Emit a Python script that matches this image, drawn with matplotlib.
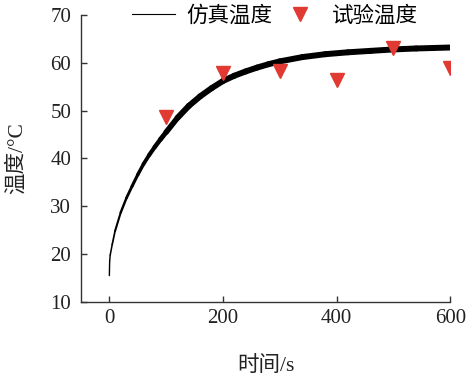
import matplotlib
matplotlib.use("Agg")
import matplotlib.pyplot as plt
from matplotlib.lines import Line2D
from matplotlib.collections import LineCollection

plt.rcParams['font.family'] = ['Liberation Serif', 'Noto Sans CJK SC']
plt.rcParams['axes.unicode_minus'] = False

# simulated temperature (read off the band centre)
sim_t = [0, 0.5, 1.5, 5, 10, 20, 30, 40, 50, 60, 70, 80, 90, 100, 120, 140,
         160, 180, 200, 220, 240, 260, 280, 300, 340, 380, 420, 460, 500, 540,
         570, 600]
sim_T = [15.5, 18.5, 19.8, 22.0, 24.8, 28.7, 31.7, 34.2, 36.6, 38.8, 40.7,
         42.4, 44.0, 45.5, 48.5, 51.0, 53.0, 54.7, 56.2, 57.3, 58.2, 59.0,
         59.7, 60.3, 61.2, 61.8, 62.2, 62.5, 62.8, 63.0, 63.1, 63.2]

# measured temperature
exp_t = [100, 200, 300, 400, 500, 600]
exp_T = [48.6, 57.9, 58.3, 56.4, 63.1, 58.9]

fig = plt.figure(figsize=(4.68, 3.75), dpi=100)
ax = fig.add_axes([0.173, 0.195, 0.789, 0.765])

# the noisy band gets thicker with time -> widen the stroke gradually
segs = [[(sim_t[i], sim_T[i]), (sim_t[i + 1], sim_T[i + 1])] for i in range(len(sim_t) - 1)]
widths = [min(4.3, 1.0 + 0.025 * sim_t[i + 1]) for i in range(len(sim_t) - 1)]
lc = LineCollection(segs, colors='black', linewidths=widths, capstyle='round',
                    joinstyle='round', zorder=2)
ax.add_collection(lc)
ax.plot(exp_t, exp_T, linestyle='none', marker='v', color='#e03a33',
        markersize=10, zorder=3)

ax.set_xlim(-50, 600)
ax.set_ylim(10, 70)
ax.set_xticks([0, 200, 400, 600])
ax.set_yticks(range(10, 71, 10))

for s in ['top', 'right']:
    ax.spines[s].set_visible(False)
for s in ['left', 'bottom']:
    ax.spines[s].set_color('#333333')
    ax.spines[s].set_linewidth(1.0)
ax.tick_params(axis='both', direction='in', length=4.5, width=1.0,
               colors='#333333', labelsize=15, labelcolor='#222222')
ax.tick_params(axis='y', pad=7)
ax.tick_params(axis='x', pad=5)

ax.set_xlabel('时间/s', fontsize=15.5, labelpad=20, color='#222222')
ax.set_ylabel('温度/°C', fontsize=15.5, labelpad=17, color='#222222')

handles = [Line2D([], [], color='black', lw=0.8),
           Line2D([], [], linestyle='none', marker='v', color='#e03a33', markersize=10)]
ax.legend(handles, ['仿真温度', '试验温度'], loc='center', bbox_to_anchor=(0.526, 0.995),
          ncol=2, frameon=False, fontsize=15.5, handletextpad=0.5, columnspacing=0.3,
          borderaxespad=0)

fig.savefig('out.png', dpi=100)
